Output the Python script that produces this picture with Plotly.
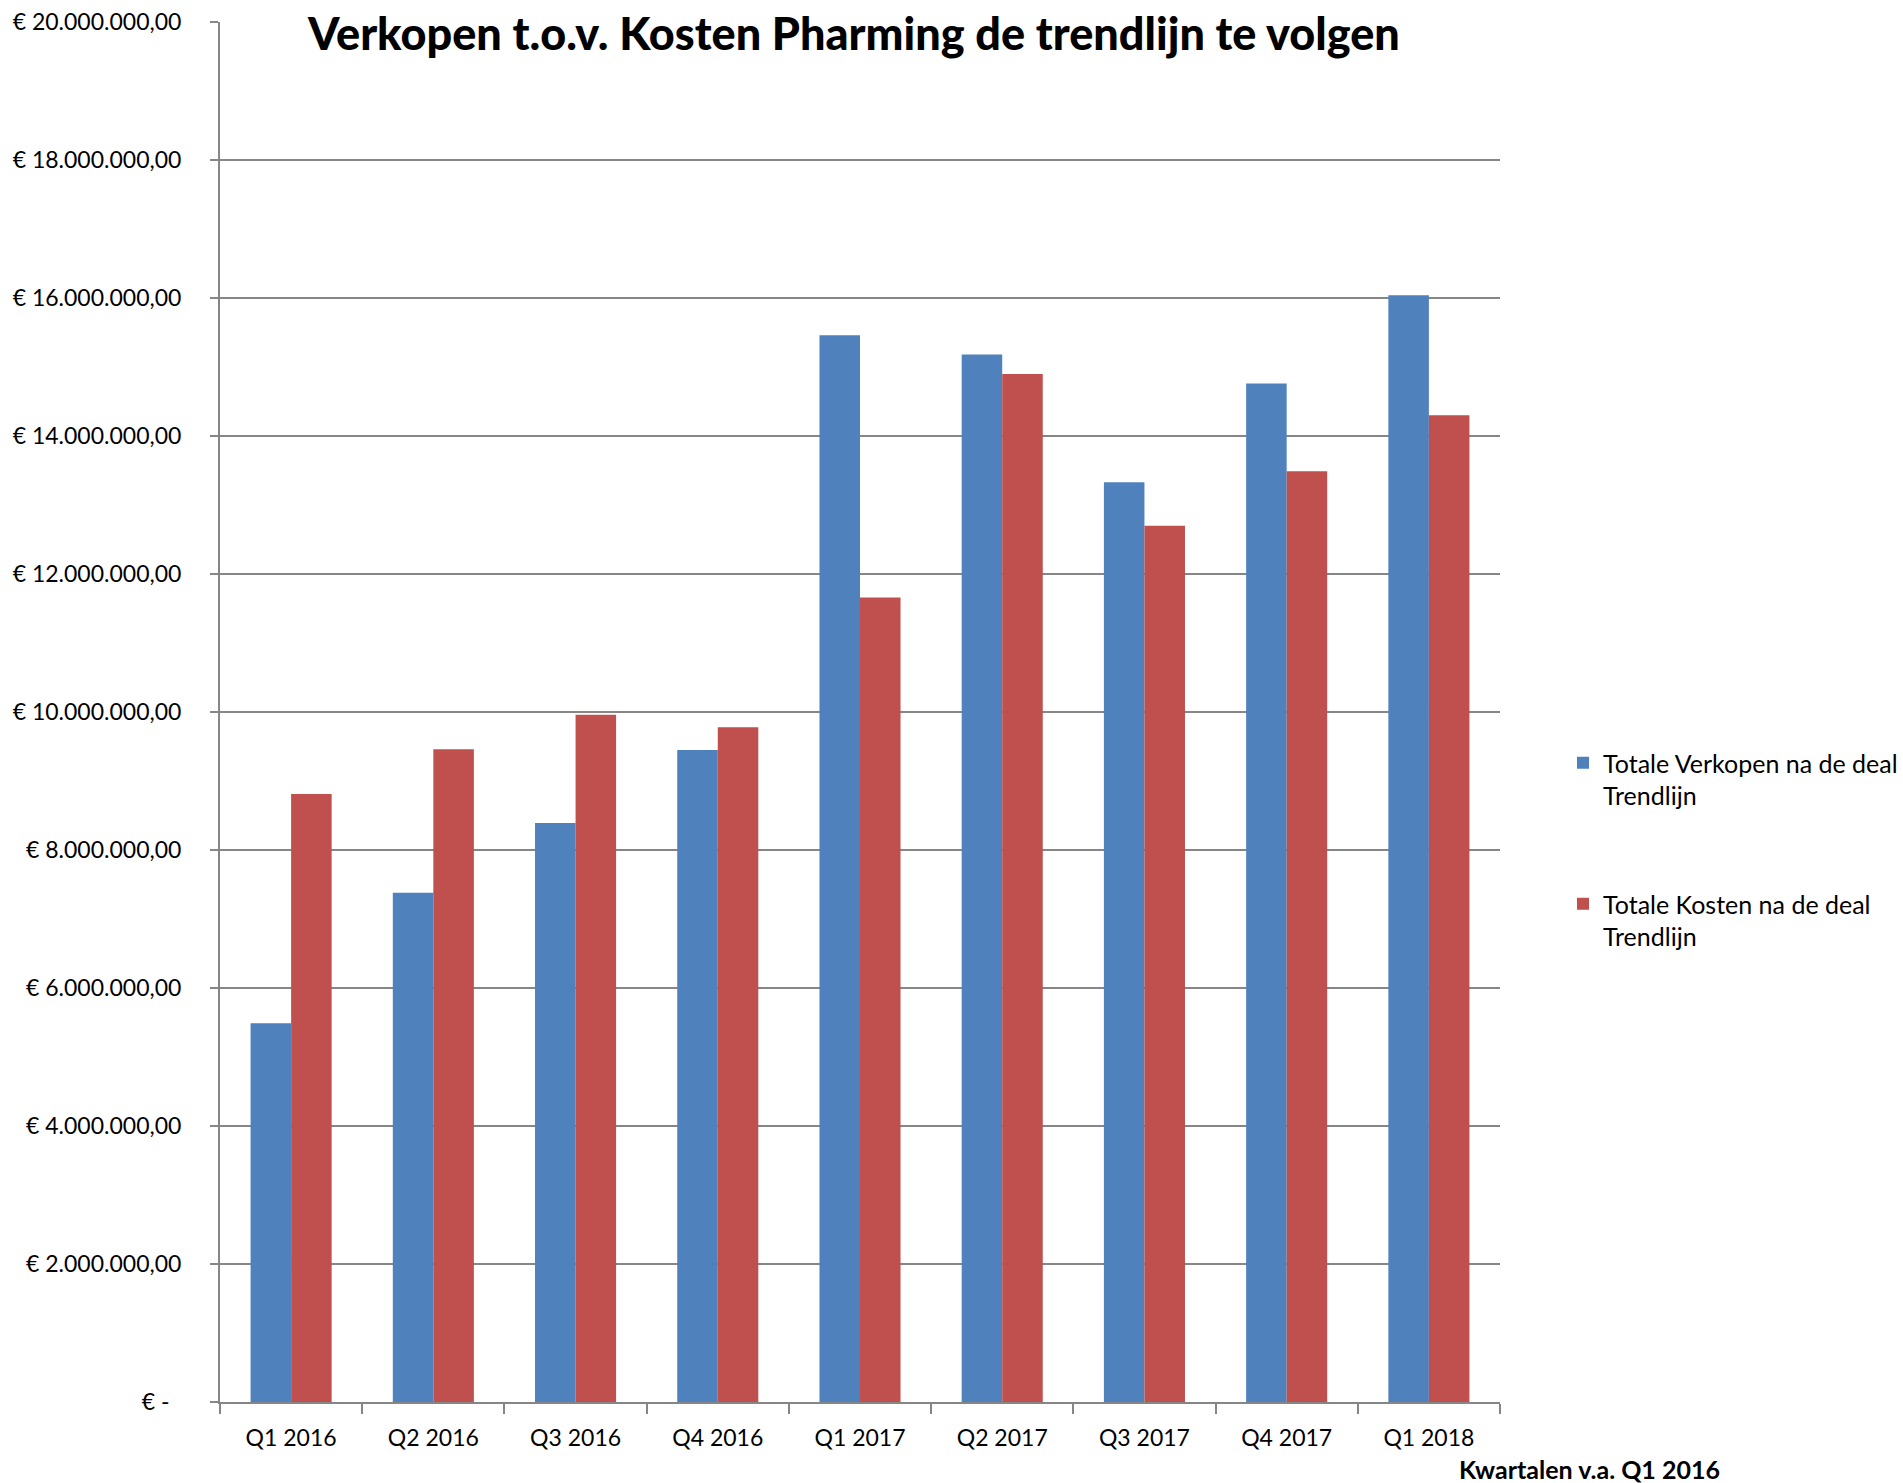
import plotly.graph_objects as go

# ---- data ----
quarters = ["Q1 2016", "Q2 2016", "Q3 2016", "Q4 2016", "Q1 2017",
            "Q2 2017", "Q3 2017", "Q4 2017", "Q1 2018"]
verkopen = [5.49e6, 7.38e6, 8.39e6, 9.45e6, 15.46e6, 15.18e6, 13.33e6, 14.76e6, 16.04e6]
kosten = [8.81e6, 9.46e6, 9.96e6, 9.78e6, 11.66e6, 14.90e6, 12.70e6, 13.49e6, 14.30e6]
y_tickvals = [0, 2e6, 4e6, 6e6, 8e6, 10e6, 12e6, 14e6, 16e6, 18e6, 20e6]
y_ticktext = ["€ -\u00a0\u00a0", "€ 2.000.000,00", "€ 4.000.000,00", "€ 6.000.000,00",
              "€ 8.000.000,00", "€ 10.000.000,00", "€ 12.000.000,00", "€ 14.000.000,00",
              "€ 16.000.000,00", "€ 18.000.000,00", "€ 20.000.000,00"]
series_names = ["Totale Verkopen na de deal<br>Trendlijn", "Totale Kosten na de deal<br>Trendlijn"]
title_text = "Verkopen t.o.v. Kosten Pharming de trendlijn te volgen"
xaxis_title = "Kwartalen v.a. Q1 2016"

FONT = "Lato"
W, H = 1903, 1483
L, R, T, B = 220, 1500, 22, 1402
grid = "#868686"

fig = go.Figure()
fig.add_trace(go.Bar(x=quarters, y=verkopen, name=series_names[0],
                     marker=dict(color="#4F81BD", line=dict(width=0)),
                     legendgroup="a"))
fig.add_trace(go.Bar(x=quarters, y=kosten, name=series_names[1],
                     marker=dict(color="#C0504D", line=dict(width=0)),
                     legendgroup="b"))

fig.update_layout(
    width=W, height=H,
    margin=dict(l=L, r=W - R, t=T, b=H - B, pad=0, autoexpand=False),
    paper_bgcolor="white", plot_bgcolor="white",
    barmode="group", bargap=0.43, bargroupgap=0,
    font=dict(family=FONT, size=23, color="black"),
    title=dict(text=title_text, x=(854) / W, xanchor="center",
               y=1 - 34 / H, yanchor="middle", yref="container",
               font=dict(family=FONT, size=45, color="black", weight=900)),
    legend=dict(x=(1563 - L) / (R - L), xanchor="left",
                y=(B - 740) / (B - T), yanchor="top",
                valign="top", tracegroupgap=73, traceorder="grouped",
                font=dict(family=FONT, size=25, color="black"),
                bgcolor="rgba(0,0,0,0)"),
    showlegend=True,
)
fig.update_xaxes(
    type="category", showline=True, linecolor=grid, linewidth=2,
    ticks="outside", tickson="boundaries", ticklen=10, tickcolor=grid, tickwidth=2,
    showgrid=False, tickfont=dict(family=FONT, size=23, color="black"),
    ticklabelstandoff=14, range=[-0.5, 8.5], automargin=False,
)
fig.update_yaxes(
    range=[0, 20e6], tickvals=y_tickvals, ticktext=y_ticktext,
    showline=True, linecolor=grid, linewidth=2,
    ticks="outside", ticklen=8, tickcolor=grid, tickwidth=2,
    showgrid=True, gridcolor=grid, gridwidth=1.5, zeroline=False,
    tickfont=dict(family=FONT, size=23, color="black"),
    ticklabelstandoff=24, automargin=False,
)
fig.add_annotation(text="<b>" + xaxis_title + "</b>", xref="paper", yref="paper",
                   x=(1589 - L) / (R - L), y=(B - 1469) / (B - T),
                   xanchor="center", yanchor="middle", showarrow=False,
                   font=dict(family=FONT, size=25, color="black"))

fig.write_html("out.html", config={"displayModeBar": False},
               post_script="document.body.style.margin='0';document.body.style.overflow='hidden';")
